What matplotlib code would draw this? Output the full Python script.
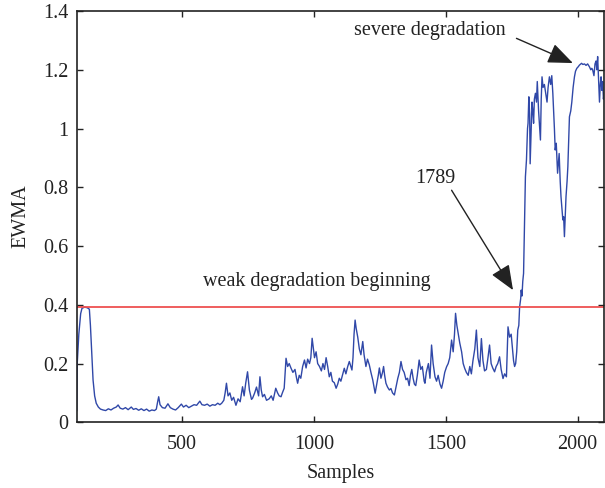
import matplotlib
matplotlib.use('Agg')
import matplotlib.pyplot as plt

plt.rcParams['font.family'] = ['Liberation Serif', 'DejaVu Serif']
plt.rcParams['font.size'] = 14.5

# (sample, EWMA), split into stretches
start_part = [(100, 0.04), (102, 0.20), (108, 0.30), (115, 0.37), (120, 0.388), (130, 0.392),
              (140, 0.390), (148, 0.385), (152, 0.33), (156, 0.257), (162, 0.144), (168, 0.09),
              (174, 0.065), (182, 0.052), (190, 0.045), (200, 0.042), (210, 0.04), (220, 0.046),
              (230, 0.042), (240, 0.048), (250, 0.052), (257, 0.059), (265, 0.048), (275, 0.045),
              (285, 0.05), (295, 0.043), (307, 0.052), (315, 0.044), (325, 0.047), (335, 0.041),
              (345, 0.046), (355, 0.04), (365, 0.045), (375, 0.038), (385, 0.042), (395, 0.04),
              (402, 0.045), (407, 0.07), (411, 0.087), (416, 0.06), (425, 0.05), (435, 0.048),
              (446, 0.063), (455, 0.05), (465, 0.045), (475, 0.042), (485, 0.05), (497, 0.062),
              (505, 0.052), (515, 0.058), (525, 0.05), (535, 0.055), (545, 0.06), (555, 0.058),
              (567, 0.072), (575, 0.06), (585, 0.058), (595, 0.062), (605, 0.055), (615, 0.06),
              (625, 0.058), (635, 0.065), (643, 0.06), (650, 0.065)]

middle_part = [(658, 0.075), (663, 0.1), (668, 0.133), (674, 0.09), (681, 0.1), (688, 0.075),
               (695, 0.085), (704, 0.058), (712, 0.08), (720, 0.07), (729, 0.121), (735, 0.09),
               (741, 0.133), (748, 0.172), (755, 0.11), (763, 0.078), (767, 0.082), (775, 0.1),
               (782, 0.12), (790, 0.09), (795, 0.155), (800, 0.11), (805, 0.087), (812, 0.095),
               (820, 0.075), (830, 0.08), (838, 0.09), (845, 0.075), (855, 0.116), (862, 0.1),
               (868, 0.09), (875, 0.087), (880, 0.1), (887, 0.116), (894, 0.218), (900, 0.19),
               (906, 0.2), (913, 0.184), (920, 0.17), (928, 0.18), (934, 0.15), (938, 0.133),
               (944, 0.16), (950, 0.15), (957, 0.19), (964, 0.212), (970, 0.185), (976, 0.215),
               (983, 0.2), (988, 0.22), (993, 0.286), (998, 0.25), (1002, 0.22), (1008, 0.24),
               (1014, 0.2), (1021, 0.19), (1028, 0.175), (1034, 0.2), (1040, 0.18), (1046, 0.22),
               (1052, 0.19), (1058, 0.155), (1064, 0.17), (1070, 0.14), (1077, 0.135), (1084, 0.116),
               (1090, 0.13), (1096, 0.15), (1102, 0.14), (1108, 0.16), (1115, 0.184), (1121, 0.165),
               (1128, 0.19), (1134, 0.207), (1140, 0.19), (1144, 0.178), (1148, 0.22), (1152, 0.3),
               (1156, 0.348), (1160, 0.32), (1166, 0.29), (1172, 0.25), (1178, 0.23), (1185, 0.275),
               (1190, 0.23), (1197, 0.19), (1203, 0.215), (1210, 0.195), (1216, 0.17), (1223, 0.144),
               (1228, 0.12), (1232, 0.099), (1238, 0.13), (1244, 0.16), (1248, 0.185), (1254, 0.15),
               (1260, 0.17), (1264, 0.19), (1268, 0.16), (1273, 0.133), (1279, 0.12), (1286, 0.11),
               (1292, 0.115), (1298, 0.1), (1305, 0.093), (1311, 0.12), (1318, 0.15), (1324, 0.17),
               (1330, 0.207), (1336, 0.18), (1342, 0.17), (1349, 0.145), (1355, 0.15), (1361, 0.125),
               (1366, 0.16), (1371, 0.18), (1376, 0.15), (1381, 0.13), (1386, 0.125), (1392, 0.16),
               (1399, 0.212), (1405, 0.18), (1411, 0.19), (1418, 0.14), (1421, 0.133), (1426, 0.17),
               (1434, 0.2), (1440, 0.15), (1446, 0.263), (1452, 0.2), (1459, 0.155), (1465, 0.14),
               (1471, 0.16), (1478, 0.13), (1484, 0.116), (1490, 0.14), (1496, 0.17), (1503, 0.189),
               (1509, 0.2), (1515, 0.22), (1522, 0.28), (1528, 0.24), (1533, 0.3), (1537, 0.371),
               (1542, 0.33), (1547, 0.303), (1553, 0.27), (1560, 0.24), (1566, 0.2), (1572, 0.183),
               (1578, 0.17), (1585, 0.16), (1591, 0.19), (1597, 0.165), (1603, 0.21), (1610, 0.25),
               (1616, 0.314), (1622, 0.22), (1629, 0.19), (1635, 0.285), (1641, 0.21), (1647, 0.175),
               (1654, 0.18), (1660, 0.22), (1666, 0.263), (1672, 0.2), (1678, 0.185), (1685, 0.172),
               (1691, 0.19), (1697, 0.2), (1704, 0.223), (1710, 0.18), (1717, 0.149), (1723, 0.165),
               (1730, 0.155), (1736, 0.325), (1742, 0.29), (1748, 0.3), (1753, 0.25), (1757, 0.21),
               (1761, 0.19), (1765, 0.2), (1769, 0.24), (1773, 0.314), (1777, 0.33)]

end_part = [(1780, 0.393), (1784, 0.42), (1786, 0.45), (1789, 0.43), (1792, 0.48), (1795, 0.507),
            (1798, 0.65), (1802, 0.836), (1806, 0.893), (1810, 1.0), (1812, 1.018), (1815, 1.108),
            (1818, 1.05), (1820, 0.88), (1824, 1.0), (1827, 1.09), (1830, 1.06), (1833, 1.018),
            (1836, 1.1), (1840, 1.12), (1844, 1.09), (1847, 1.16), (1850, 1.1), (1852, 1.06),
            (1856, 1.0), (1859, 0.961), (1862, 1.1), (1865, 1.176), (1869, 1.14), (1874, 1.15),
            (1879, 1.12), (1884, 1.09), (1888, 1.14), (1893, 1.176), (1898, 1.15), (1902, 1.18),
            (1906, 1.12), (1909, 1.063), (1912, 1.0), (1915, 0.927), (1919, 0.95), (1924, 0.848),
            (1927, 0.88), (1930, 0.915), (1934, 0.82), (1937, 0.768), (1941, 0.72), (1944, 0.689),
            (1947, 0.7), (1950, 0.632), (1953, 0.7), (1956, 0.768), (1960, 0.82), (1963, 0.87),
            (1966, 0.95), (1969, 1.04), (1974, 1.06), (1978, 1.09), (1983, 1.14), (1988, 1.176),
            (1992, 1.195), (1997, 1.205), (2002, 1.21), (2007, 1.216), (2015, 1.222), (2020, 1.218),
            (2026, 1.22), (2032, 1.215), (2038, 1.22), (2045, 1.21), (2050, 1.2), (2054, 1.205),
            (2057, 1.2), (2062, 1.18), (2066, 1.22), (2070, 1.23), (2073, 1.2), (2076, 1.245),
            (2080, 1.16), (2083, 1.09), (2086, 1.15), (2089, 1.176), (2092, 1.13), (2095, 1.16),
            (2098, 1.1), (2100, 1.12)]

threshold = 0.393
x_ticks = [500, 1000, 1500, 2000]
y_ticks = [0, 0.2, 0.4, 0.6, 0.8, 1, 1.2, 1.4]
y_labels = ['0', '0.2', '0.4', '0.6', '0.8', '1', '1.2', '1.4']

samples = [p[0] for p in start_part + middle_part + end_part]
ewma = [p[1] for p in start_part + middle_part + end_part]

fig = plt.figure(figsize=(6.05, 4.88), dpi=100)
ax = fig.add_axes([0.1268, 0.1346, 0.8715, 0.8428])

ax.plot(samples, ewma, color='#3048a8', lw=1.0)
ax.axhline(threshold, color='#ee5050', lw=1.3)

ax.set_xlim(100, 2100)
ax.set_ylim(0, 1.4)
ax.set_xticks(x_ticks)
ax.set_yticks(y_ticks)
ax.set_yticklabels(y_labels)
ax.tick_params(direction='in', top=True, right=True, length=4, width=1, colors='#222222',
               labelsize=14.5, pad=6)
ax.tick_params(axis='x', pad=9)
for s in ax.spines.values():
    s.set_linewidth(1.2)
    s.set_color('#222222')

ax.set_xlabel('Samples', fontsize=14.5, color='#222222', labelpad=7)
ax.set_ylabel('EWMA', fontsize=14.5, color='#222222', labelpad=9)

arrow = dict(arrowstyle='-|>,head_length=1.1,head_width=0.45', color='#222222', lw=1.0,
             mutation_scale=14, shrinkA=0, shrinkB=0)
ax.text(1012, 0.479, 'weak degradation beginning', ha='center', va='center', fontsize=14.5, color='#222222')
ax.text(1459, 0.83, '1789', ha='center', va='center', fontsize=14.5, color='#222222')
ax.annotate('', xy=(1755, 0.45), xytext=(1522, 0.79), arrowprops=arrow)
ax.text(1438, 1.335, 'severe degradation', ha='center', va='center', fontsize=14.5, color='#222222')
ax.annotate('', xy=(1982, 1.223), xytext=(1768, 1.307), arrowprops=arrow)

fig.savefig('out.png', dpi=100)
